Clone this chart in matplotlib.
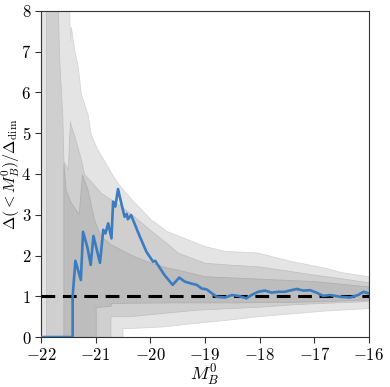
import numpy as np
import matplotlib
matplotlib.use("Agg")
import matplotlib.pyplot as plt
import matplotlib.ticker as mtick

plt.rcParams['mathtext.fontset'] = 'cm'
plt.rcParams['font.family'] = 'serif'
plt.rcParams['font.serif'] = ['DejaVu Serif']

# measured curve
mag = [-22.0, -21.42, -21.42, -21.37, -21.27, -21.23, -21.15, -21.09, -21.04, -20.92,
       -20.86, -20.82, -20.77, -20.71, -20.68, -20.64, -20.59, -20.53, -20.47, -20.43,
       -20.41, -20.35, -20.29, -20.19, -20.07, -19.95, -19.91, -19.74, -19.59, -19.47,
       -19.37, -19.27, -19.15, -19.06, -18.97, -18.79, -18.63, -18.51, -18.39, -18.24,
       -18.15, -18.03, -17.90, -17.78, -17.66, -17.54, -17.45, -17.32, -17.20, -17.08,
       -16.96, -16.84, -16.71, -16.53, -16.35, -16.20, -16.10, -16.0]
ratio = [0.0, 0.0, 1.0, 1.87, 1.40, 2.58, 2.20, 1.77, 2.48, 1.82,
         2.63, 2.54, 2.79, 2.42, 3.32, 3.20, 3.63, 3.28, 2.95, 3.02,
         2.89, 2.99, 2.79, 2.46, 2.09, 1.85, 1.87, 1.52, 1.28, 1.46,
         1.36, 1.32, 1.28, 1.19, 1.17, 0.99, 0.97, 1.03, 1.01, 0.95,
         1.03, 1.11, 1.14, 1.09, 1.11, 1.11, 1.14, 1.18, 1.14, 1.15,
         1.09, 1.01, 1.03, 0.99, 0.97, 1.03, 1.11, 1.07]

# outer envelope (lightest)
out_up_x = [-22.0, -21.49, -21.47, -21.455, -21.445, -21.38, -21.32, -21.26, -21.2, -21.14,
            -21.08, -20.96, -20.83, -20.71, -20.59, -20.47, -20.29, -19.98, -19.68, -19.49,
            -19.0, -18.63, -18.03, -17.41, -16.8, -16.5, -16.0]
out_up_y = [9.0, 9.0, 7.7, 7.25, 7.6, 7.01, 6.64, 5.95, 5.70, 5.46,
            4.96, 4.59, 4.30, 4.02, 3.77, 3.57, 3.30, 2.87, 2.58, 2.48,
            2.22, 2.10, 2.06, 1.85, 1.69, 1.58, 1.48]
out_lo_x = [-22.0, -20.5, -20.5, -20.37, -19.76, -19.15, -18.54, -18.03, -17.41, -16.8, -16.0]
out_lo_y = [0.0, 0.0, 0.21, 0.21, 0.25, 0.34, 0.42, 0.50, 0.57, 0.64, 0.70]

# middle envelope
mid_up_x = [-21.9, -21.7, -21.66, -21.6, -21.58, -21.5, -21.46, -21.45, -21.38, -21.26,
            -21.2, -21.08, -20.9, -20.71, -20.53, -20.29, -19.98, -19.7, -19.49, -19.0,
            -18.5, -18.0, -17.5, -17.0, -16.5, -16.0]
mid_up_y = [9.0, 9.0, 6.85, 5.37, 4.3, 4.1, 5.28, 5.2, 4.92, 4.34,
            3.98, 3.81, 3.53, 3.36, 3.20, 2.95, 2.60, 2.30, 2.06, 1.81,
            1.76, 1.72, 1.62, 1.52, 1.43, 1.33]
mid_lo_x = [-21.9, -20.72, -20.72, -20.37, -19.76, -19.15, -18.54, -18.03, -17.41, -16.8, -16.0]
mid_lo_y = [0.0, 0.0, 0.50, 0.50, 0.58, 0.66, 0.70, 0.73, 0.79, 0.83, 0.87]

# inner envelope (darkest)
in_up_x = [-21.58, -21.54, -21.45, -21.3, -21.24, -21.14, -21.02, -20.9, -20.71, -20.47,
           -20.29, -19.98, -19.68, -19.49, -19.0, -18.0, -17.0, -16.0]
in_up_y = [4.26, 3.6, 3.3, 3.0, 3.98, 3.61, 2.87, 2.46, 2.26, 2.09,
           1.97, 1.81, 1.69, 1.64, 1.48, 1.42, 1.36, 1.23]
in_lo_x = [-21.58, -20.99, -20.99, -20.71, -20.71, -20.4, -19.5, -18.5, -17.5, -16.8, -16.0]
in_lo_y = [0.0, 0.0, 0.72, 0.76, 0.82, 0.83, 0.84, 0.84, 0.85, 0.87, 0.91]

fig = plt.figure(figsize=(3.9, 3.87), dpi=100)
ax = fig.add_axes([0.105, 0.129, 0.841, 0.843])

def band(xu, yu, xl, yl, col, ecol):
    px = np.concatenate([xu, xl[::-1]])
    py = np.concatenate([yu, yl[::-1]])
    ax.fill(px, py, facecolor=col, edgecolor=ecol, lw=0.6, zorder=1)

band(out_up_x, out_up_y, out_lo_x, out_lo_y, '#e4e4e4', '#d6d6d6')
band(mid_up_x, mid_up_y, mid_lo_x, mid_lo_y, '#cfcfcf', '#c2c2c2')
band(in_up_x, in_up_y, in_lo_x, in_lo_y, '#bdbdbd', '#b0b0b0')

ax.axhline(1.0, color='k', ls='--', lw=2.2, dashes=(4.5, 2.5), zorder=3)
ax.plot(mag, ratio, color='#3a7cbf', lw=1.9, zorder=4)

ax.set_xlim(-22, -16)
ax.set_ylim(0, 8)
ax.xaxis.set_major_locator(mtick.MultipleLocator(1))
ax.yaxis.set_major_locator(mtick.MultipleLocator(1))
fmt = mtick.FuncFormatter(lambda v, p: r'$%d$' % round(v))
ax.xaxis.set_major_formatter(fmt)
ax.yaxis.set_major_formatter(fmt)
ax.tick_params(labelsize=12, direction='out', length=4, pad=3, color='#333333')
for s in ax.spines.values():
    s.set_color('#333333')

ax.set_xlabel(r'$M_B^0$', fontsize=13, labelpad=-1)
ax.set_ylabel(r'$\Delta(<M_B^0)/\Delta_{\rm dim}$', fontsize=11.5, labelpad=-0.5)

fig.savefig('out.png', dpi=100)
